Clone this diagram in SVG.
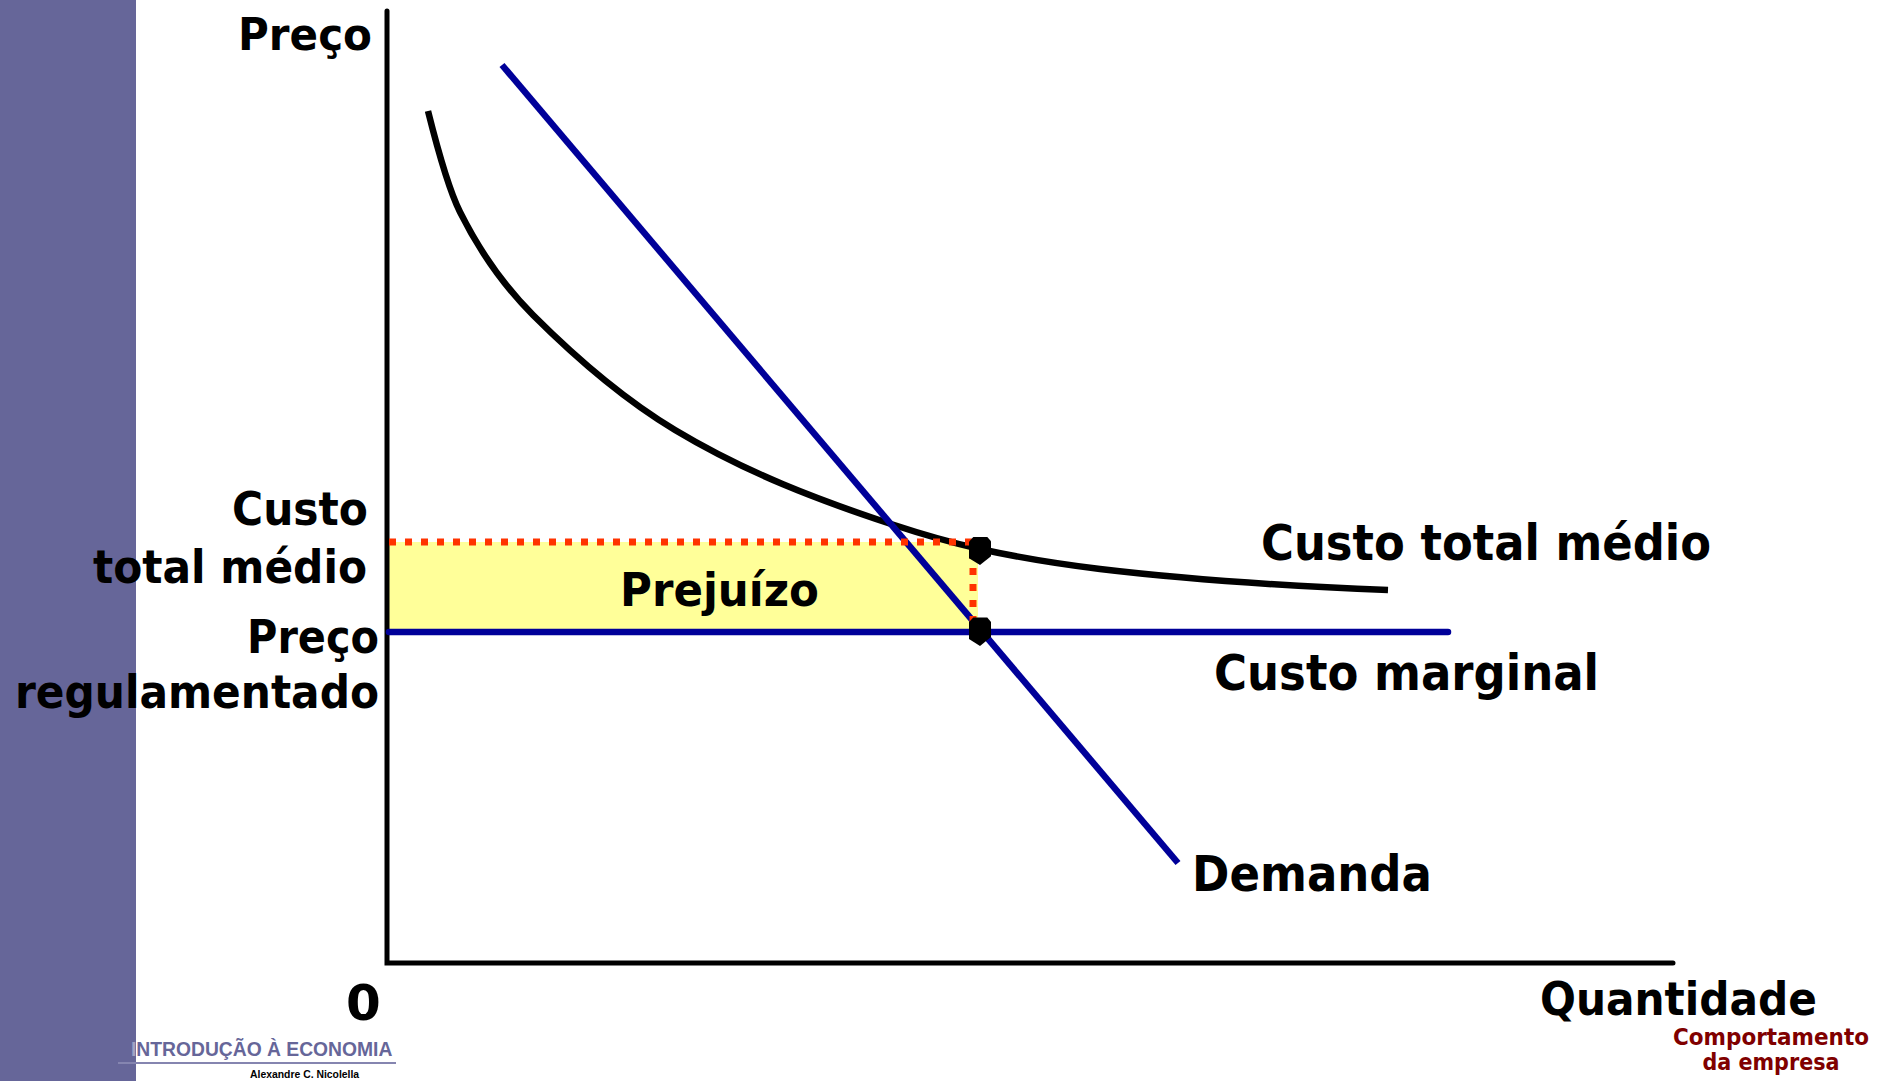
<svg xmlns="http://www.w3.org/2000/svg" width="1889" height="1081" viewBox="0 0 1889 1081">
<defs>
<style>
.lbl{font-family:"DejaVu Sans","Verdana",sans-serif;font-weight:bold;fill:#000}
.ft{font-family:"Liberation Sans",Arial,sans-serif;font-weight:bold}
.axis{stroke:#000;stroke-width:5;fill:none;stroke-linecap:round}
.blue{stroke:#000099;stroke-width:6.5;fill:none}
.dot{stroke:#FF3300;stroke-width:7;fill:none;stroke-dasharray:7 9}
</style>
</defs>
<rect x="0" y="0" width="1889" height="1081" fill="#fff"/>
<rect id="band" x="0" y="0" width="136" height="1081" fill="#666699"/>
<g id="loss-area"><rect x="389" y="542" width="589" height="89" fill="#FFFF99"/></g>
<g id="axes">
<path class="axis" d="M387,11 L387,963 L1673,963"/>
</g>
<g id="connectors">
<path id="atc" d="M428,111 C438.7,153.7 449.3,190.7 460,212 C484.3,260.7 508.7,290.7 533,315 C580.3,362.3 627.7,401.6 675,430 C747,473.2 819,500.2 891,524 C920.7,533.8 950.3,542.5 980,549 C1020,557.8 1060,564.2 1100,569 C1196,580.5 1292,586.2 1388,590" stroke="#000" stroke-width="6.5" fill="none"/>
<line id="demand" class="blue" x1="502" y1="65" x2="1178" y2="863"/>
<line id="marginal" class="blue" x1="389" y1="632" x2="1448" y2="632" stroke-width="7" stroke-linecap="round"/>
<line class="dot" x1="389" y1="542" x2="975" y2="542"/>
<line class="dot" x1="973" y1="552" x2="973" y2="632"/>
</g>
<g id="points">
<polygon points="973.3,537 987.3,537 991,541.3 991,556.3 980,565 969,558.3 969,541.7" fill="#000"/>
<polygon points="973.3,617.5 987.3,617.5 991,622 991,637 980,646 969,639 969,622" fill="#000"/>
</g>
<g id="labels">
<text class="lbl" x="238" y="50" font-size="44" textLength="134" lengthAdjust="spacingAndGlyphs">Preço</text>
<text class="lbl" x="232" y="525" font-size="46" textLength="136" lengthAdjust="spacingAndGlyphs">Custo</text>
<text class="lbl" x="93" y="583" font-size="46" textLength="274" lengthAdjust="spacingAndGlyphs">total médio</text>
<text class="lbl" x="247" y="653" font-size="46" textLength="132" lengthAdjust="spacingAndGlyphs">Preço</text>
<text class="lbl" x="15" y="708" font-size="46" textLength="364" lengthAdjust="spacingAndGlyphs">regulamentado</text>
<text class="lbl" x="346" y="1020" font-size="50">0</text>
<text class="lbl" x="620" y="606" font-size="46" textLength="199" lengthAdjust="spacingAndGlyphs">Prejuízo</text>
<text class="lbl" x="1261" y="560" font-size="49" textLength="450" lengthAdjust="spacingAndGlyphs">Custo total médio</text>
<text class="lbl" x="1214" y="690" font-size="49" textLength="385" lengthAdjust="spacingAndGlyphs">Custo marginal</text>
<text class="lbl" x="1192" y="891" font-size="49" textLength="240" lengthAdjust="spacingAndGlyphs">Demanda</text>
<text class="lbl" x="1540" y="1015" font-size="46" textLength="277" lengthAdjust="spacingAndGlyphs">Quantidade</text>
<text class="lbl" x="1771" y="1045" font-size="23" text-anchor="middle" style="fill:#800000" textLength="196" lengthAdjust="spacingAndGlyphs">Comportamento</text>
<text class="lbl" x="1771" y="1070" font-size="23" text-anchor="middle" style="fill:#800000" textLength="137" lengthAdjust="spacingAndGlyphs">da empresa</text>
</g>
<g id="footer">
<text class="ft" x="131" y="1056" font-size="19.3" fill="#666699"><tspan fill="#a3a3c6">I</tspan>NTRODUÇÃO À ECONOMIA</text>
<line x1="118" y1="1063" x2="396" y2="1063" stroke="#8585b0" stroke-width="2"/>
<text class="ft" x="250" y="1078" font-size="10.4" fill="#000">Alexandre C. Nicolella</text>
</g>
</svg>
